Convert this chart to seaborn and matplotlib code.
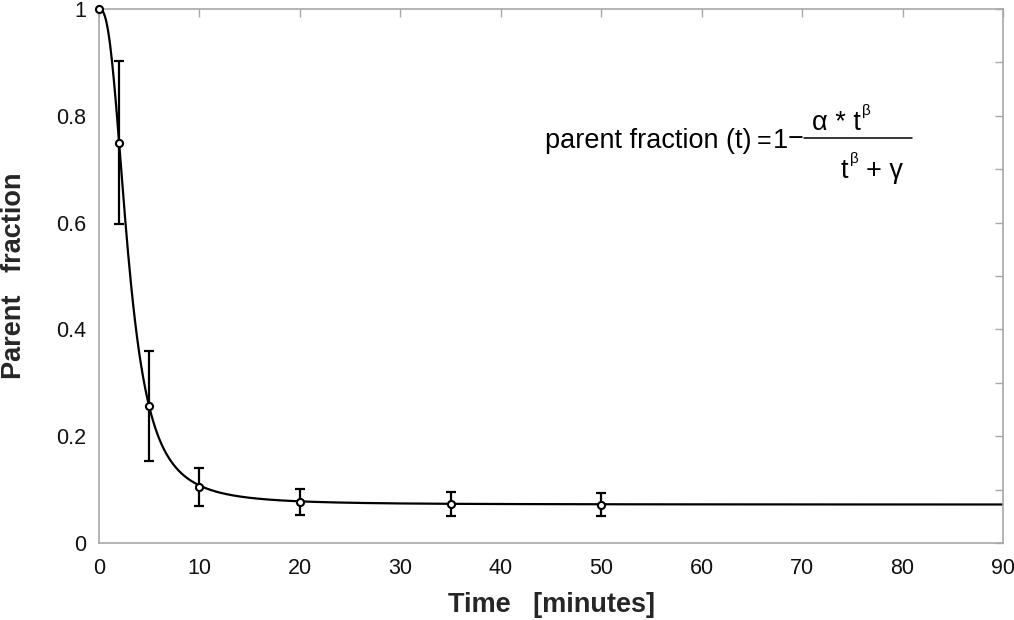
import numpy as np
import matplotlib
matplotlib.use("Agg")
import matplotlib.pyplot as plt
from matplotlib.ticker import MultipleLocator
from matplotlib.transforms import IdentityTransform
from matplotlib.lines import Line2D
import seaborn as sns

# Measured data
time_min = [0, 2, 5, 10, 20, 35, 50]
parent_frac = [1.0, 0.75, 0.257, 0.105, 0.077, 0.073, 0.072]
err = [0.0, 0.153, 0.103, 0.036, 0.024, 0.022, 0.022]

# Fitted model parameters (curve shown in chart: 1 - a*t^b/(t^b+g))
alpha = 0.928
beta = 2.62
gamma = 16.7

x_ticks = [0, 10, 20, 30, 40, 50, 60, 70, 80, 90]
y_ticks = [0, 0.2, 0.4, 0.6, 0.8, 1]
y_tick_labels = ["0", "0.2", "0.4", "0.6", "0.8", "1"]

sns.set_theme(style="white")
plt.rcParams['font.family'] = ['Liberation Sans', 'DejaVu Sans']

W, H = 1014, 620
fig = plt.figure(figsize=(W / 100, H / 100), dpi=100)
ax = fig.add_axes([99/W, 77/H, 904/W, 534/H])

t_fit = np.linspace(0, 90, 901)
tb = t_fit ** beta
fit = 1 - alpha * tb / (tb + gamma)
sns.lineplot(x=t_fit, y=fit, ax=ax, color="black", linewidth=1.6)

ax.errorbar(time_min, parent_frac, yerr=err, fmt='none', ecolor='black',
            elinewidth=1.6, capsize=3.6, capthick=1.6, zorder=3)
sns.scatterplot(x=time_min, y=parent_frac, ax=ax, marker='o', s=26,
                facecolor='white', edgecolor='black', linewidth=1.5, zorder=4,
                clip_on=False)

ax.set_xlim(0, 90)
ax.set_ylim(0, 1)
ax.set_xticks(x_ticks)
ax.set_xticklabels([str(v) for v in x_ticks])
ax.set_yticks(y_ticks)
ax.set_yticklabels(y_tick_labels)
ax.yaxis.set_minor_locator(MultipleLocator(0.1))

for sp in ax.spines.values():
    sp.set_color('#a8a8a8')
    sp.set_linewidth(1.2)

ax.tick_params(axis='both', which='both', direction='in', color='#a8a8a8',
               top=True, right=True, length=6, width=1.0,
               labelsize=15.5, labelcolor='#111111')
ax.tick_params(axis='x', pad=10.5)
ax.tick_params(axis='y', pad=9)

ax.set_xlabel("Time   [minutes]", fontsize=19.5, fontweight='bold', labelpad=10)
ax.set_ylabel("Parent   fraction", fontsize=19.5, fontweight='bold', labelpad=21)

# Equation, placed in pixel coordinates (y measured from the top)
T = IdentityTransform()
fs = 19.5
fss = 11
def put(x, y_top, s, size=fs):
    fig.text(x, H - y_top, s, transform=T, fontsize=size, va='baseline',
             ha='left', color='black')

put(545, 148, "parent fraction (t)")
put(757, 148, "=", 18)
put(773, 148, "1")
put(788, 146, "\u2212")
fig.add_artist(Line2D([804, 912], [H - 138, H - 138], transform=T,
                      color='black', linewidth=1.1))
put(812, 130, "\u03b1 * t")
put(862, 115, "\u03b2", fss)
put(841, 178, "t")
put(850, 163, "\u03b2", fss)
put(866, 178, "+ \u03b3")

fig.savefig("out.png", dpi=100)
